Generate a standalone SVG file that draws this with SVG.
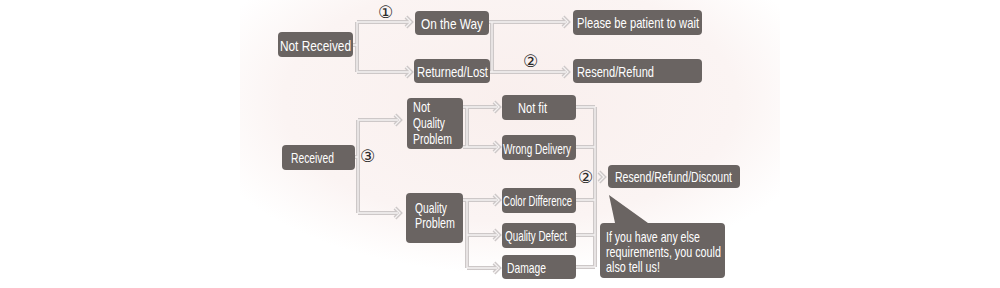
<svg xmlns="http://www.w3.org/2000/svg" width="1000" height="288" viewBox="0 0 1000 288">
<defs>
<radialGradient id="bg" cx="0.5" cy="0.35" r="0.6">
<stop offset="0" stop-color="#f9efed"/>
<stop offset="0.7" stop-color="#fbf4f3"/>
<stop offset="1" stop-color="#ffffff"/>
</radialGradient>
<style>
.box{fill:#6a6462;}
.t{font-family:"Liberation Sans",Arial,sans-serif;font-size:15px;fill:#ffffff;}
.num{font-family:"DejaVu Sans","Noto Sans CJK SC",sans-serif;font-size:17px;fill:#2a2a2a;}
.lo{fill:none;stroke:#cdc8c8;stroke-width:4;stroke-linejoin:miter;}
.li{fill:none;stroke:#f5f2f2;stroke-width:1.3;stroke-linejoin:miter;}
</style>
</defs>
<rect width="1000" height="288" fill="#ffffff"/>
<rect x="240" y="0" width="540" height="288" fill="url(#bg)"/>

<g id="connectors">
<g class="lo">
<path d="M353,45 H357 M357,22 V72 M357,22 H410 M357,72 H410"/>
<path d="M489,22 H566 M492,22 V72 M490,72 H566"/>
<path d="M355,157 H358 M358,120 V213 M358,120 H398 M358,213 H398"/>
<path d="M463,107 H497 M467,107 V147 M463,147 H497"/>
<path d="M463,200 H497 M467,200 V268 M467,235 H497 M467,268 H497"/>
<path d="M576,107 H595 M576,147 H595 M576,200 H595 M576,235 H595 M576,267 H595 M595,107 V267"/>
<path d="M406,17 L411,22 L406,27 M406,67 L411,72 L406,77 M563,17 L568,22 L563,27 M563,67 L568,72 L563,77"/>
<path d="M395,115 L400,120 L395,125 M395,208 L400,213 L395,218"/>
<path d="M494,102 L499,107 L494,112 M494,142 L499,147 L494,152 M494,195 L499,200 L494,205 M494,230 L499,235 L494,240 M494,263 L499,268 L494,273"/>
<path d="M599,172 L604,177 L599,182"/>
</g>
<g class="li">
<path d="M353,45 H357 M357,22 V72 M357,22 H410 M357,72 H410"/>
<path d="M489,22 H566 M492,22 V72 M490,72 H566"/>
<path d="M355,157 H358 M358,120 V213 M358,120 H398 M358,213 H398"/>
<path d="M463,107 H497 M467,107 V147 M463,147 H497"/>
<path d="M463,200 H497 M467,200 V268 M467,235 H497 M467,268 H497"/>
<path d="M576,107 H595 M576,147 H595 M576,200 H595 M576,235 H595 M576,267 H595 M595,107 V267"/>
<path d="M406,17 L411,22 L406,27 M406,67 L411,72 L406,77 M563,17 L568,22 L563,27 M563,67 L568,72 L563,77"/>
<path d="M395,115 L400,120 L395,125 M395,208 L400,213 L395,218"/>
<path d="M494,102 L499,107 L494,112 M494,142 L499,147 L494,152 M494,195 L499,200 L494,205 M494,230 L499,235 L494,240 M494,263 L499,268 L494,273"/>
<path d="M599,172 L604,177 L599,182"/>
</g>
<text class="num" x="378" y="18">①</text>
<text class="num" x="523" y="67">②</text>
<text class="num" x="360" y="162">③</text>
<text class="num" x="578" y="183">②</text>
</g>

<g id="not-received"><rect class="box" x="278" y="32" width="75" height="25" rx="4"/><text class="t" x="280" y="51" textLength="71" lengthAdjust="spacingAndGlyphs">Not Received</text></g>
<g id="on-the-way"><rect class="box" x="415" y="11" width="74" height="24" rx="4"/><text class="t" x="421" y="29" textLength="62" lengthAdjust="spacingAndGlyphs">On the Way</text></g>
<g id="returned-lost"><rect class="box" x="414" y="59" width="76" height="24" rx="4"/><text class="t" x="417" y="77" textLength="71" lengthAdjust="spacingAndGlyphs">Returned/Lost</text></g>
<g id="patient"><rect class="box" x="573" y="10" width="129" height="25" rx="4"/><text class="t" x="577" y="28" textLength="122" lengthAdjust="spacingAndGlyphs">Please be patient to wait</text></g>
<g id="resend-refund"><rect class="box" x="573" y="59" width="129" height="24" rx="4"/><text class="t" x="577" y="77" textLength="77" lengthAdjust="spacingAndGlyphs">Resend/Refund</text></g>

<g id="received"><rect class="box" x="282" y="145" width="73" height="25" rx="4"/><text class="t" x="291" y="163" textLength="43" lengthAdjust="spacingAndGlyphs">Received</text></g>
<g id="not-quality-problem"><rect class="box" x="407" y="98" width="56" height="51" rx="4"/>
<text class="t" x="413" y="112" textLength="17" lengthAdjust="spacingAndGlyphs">Not</text>
<text class="t" x="413" y="128" textLength="32" lengthAdjust="spacingAndGlyphs">Quality</text>
<text class="t" x="413" y="144" textLength="39" lengthAdjust="spacingAndGlyphs">Problem</text></g>
<g id="quality-problem"><rect class="box" x="406" y="193" width="57" height="50" rx="4"/>
<text class="t" x="415" y="213" textLength="32" lengthAdjust="spacingAndGlyphs">Quality</text>
<text class="t" x="415" y="228" textLength="40" lengthAdjust="spacingAndGlyphs">Problem</text></g>
<g id="not-fit"><rect class="box" x="502" y="95" width="74" height="25" rx="4"/><text class="t" x="518" y="113" textLength="29" lengthAdjust="spacingAndGlyphs">Not fit</text></g>
<g id="wrong-delivery"><rect class="box" x="502" y="135" width="74" height="25" rx="4"/><text class="t" x="503" y="154" textLength="68" lengthAdjust="spacingAndGlyphs">Wrong Delivery</text></g>
<g id="color-difference"><rect class="box" x="502" y="188" width="74" height="25" rx="4"/><text class="t" x="503" y="206" textLength="69" lengthAdjust="spacingAndGlyphs">Color Difference</text></g>
<g id="quality-defect"><rect class="box" x="502" y="223" width="74" height="25" rx="4"/><text class="t" x="505" y="241" textLength="62" lengthAdjust="spacingAndGlyphs">Quality Defect</text></g>
<g id="damage"><rect class="box" x="502" y="255" width="74" height="24" rx="4"/><text class="t" x="507" y="273" textLength="39" lengthAdjust="spacingAndGlyphs">Damage</text></g>
<g id="resend-refund-discount"><rect class="box" x="608" y="165" width="132" height="23" rx="4"/><text class="t" x="615" y="182" textLength="117" lengthAdjust="spacingAndGlyphs">Resend/Refund/Discount</text></g>
<g id="callout"><path class="box" d="M604,223 H615 L609,195 L648,223 H721 Q725,223 725,227 V274 Q725,278 721,278 H604 Q600,278 600,274 V227 Q600,223 604,223 Z"/>
<text class="t" x="606" y="242" textLength="94" lengthAdjust="spacingAndGlyphs">If you have any else</text>
<text class="t" x="606" y="257" textLength="115" lengthAdjust="spacingAndGlyphs">requirements, you could</text>
<text class="t" x="606" y="272" textLength="54" lengthAdjust="spacingAndGlyphs">also tell us!</text></g>
</svg>
